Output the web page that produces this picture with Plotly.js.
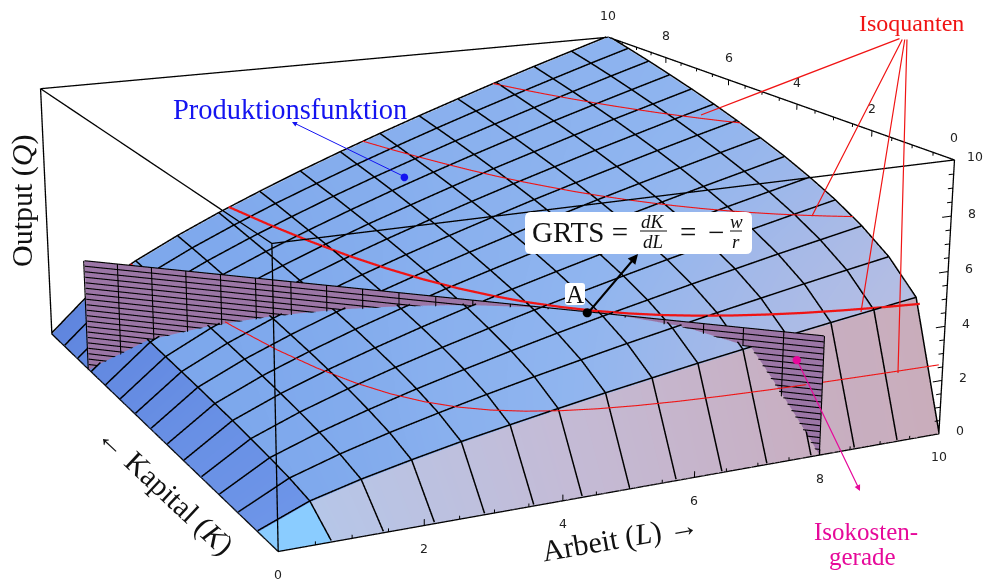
<!DOCTYPE html><html><head><meta charset="utf-8"><script src="https://cdn.plot.ly/plotly-3.0.1.min.js"></script></head><body style="margin:0;overflow:hidden;background:#fff"><div id="clip" style="position:absolute;left:0;top:0;width:989px;height:583px;overflow:hidden"><div id="p" style="position:absolute;left:-1267px;top:-770px"></div></div><script>
// ---- data ----
const gridValues=[0,0.714,1.429,2.143,2.857,3.571,4.286,5,5.714,6.429,7.143,7.857,8.571,9.286,10];
const outputGrid=[ // rows: Kapital, columns: Arbeit
[0,0,0,0,0,0,0,0,0,0,0,0,0,0,0],
[0,0.71,1.16,1.54,1.89,2.20,2.50,2.79,3.06,3.33,3.58,3.83,4.07,4.30,4.53],
[0,0.88,1.43,1.90,2.32,2.71,3.08,3.43,3.77,4.09,4.41,4.71,5.01,5.30,5.58],
[0,0.99,1.61,2.14,2.62,3.06,3.48,3.88,4.26,4.62,4.98,5.32,5.66,5.98,6.30],
[0,1.08,1.76,2.34,2.86,3.34,3.79,4.23,4.64,5.04,5.43,5.80,6.16,6.52,6.87],
[0,1.16,1.88,2.50,3.05,3.57,4.06,4.52,4.96,5.39,5.80,6.20,6.59,6.97,7.34],
[0,1.22,1.99,2.64,3.23,3.77,4.29,4.77,5.24,5.69,6.13,6.55,6.96,7.36,7.76],
[0,1.28,2.08,2.76,3.38,3.95,4.49,5.00,5.49,5.96,6.42,6.86,7.29,7.71,8.12],
[0,1.33,2.17,2.88,3.52,4.11,4.67,5.20,5.71,6.21,6.68,7.14,7.59,8.03,8.45],
[0,1.38,2.24,2.98,3.64,4.26,4.84,5.39,5.92,6.43,6.92,7.40,7.86,8.32,8.76],
[0,1.43,2.32,3.08,3.76,4.40,5.00,5.56,6.11,6.64,7.14,7.64,8.12,8.58,9.04],
[0,1.47,2.38,3.16,3.87,4.52,5.14,5.73,6.29,6.83,7.35,7.86,8.35,8.83,9.30],
[0,1.51,2.45,3.25,3.97,4.64,5.28,5.88,6.45,7.01,7.54,8.06,8.57,9.07,9.55],
[0,1.54,2.50,3.33,4.07,4.76,5.40,6.02,6.61,7.18,7.73,8.26,8.78,9.29,9.78],
[0,1.58,2.56,3.40,4.16,4.86,5.53,6.16,6.76,7.34,7.90,8.45,8.98,9.49,10.00]];
const isoLevels=[2.45,4.34,6.5,8.4];
const isoL=[
[1.34,1.49,1.66,1.84,2.05,2.28,2.53,2.81,3.12,3.47,3.86,4.29,4.77,5.30,5.89,6.55,7.28,8.09,9.00,10.00],
[3.03,3.23,3.44,3.66,3.90,4.15,4.42,4.71,5.01,5.34,5.68,6.05,6.44,6.86,7.31,7.78,8.28,8.82,9.39,10.00],
[5.40,5.58,5.77,5.96,6.15,6.35,6.56,6.78,7.00,7.23,7.47,7.72,7.97,8.23,8.50,8.78,9.07,9.37,9.68,10.00],
[7.795,8.0,8.2,8.4,8.6,8.8,9.0,9.2,9.4,9.6,9.8,10.00]];
const isoK=[
[10.00,7.813,6.105,4.770,3.727,2.912,2.275,1.778,1.389,1.085,0.848,0.663,0.518,0.404,0.316,0.247,0.193,0.151,0.118,0.092],
[10.00,8.638,7.461,6.445,5.567,4.808,4.153,3.588,3.099,2.677,2.312,1.997,1.725,1.490,1.287,1.112,0.960,0.830,0.717,0.619],
[10.00,9.272,8.597,7.971,7.391,6.853,6.354,5.892,5.463,5.065,4.697,4.355,4.038,3.744,3.471,3.219,2.984,2.767,2.566,2.379],
[10.00,9.41,8.88,8.40,7.95,7.53,7.15,6.79,6.46,6.15,5.86,5.59]];
const planeL=[0,0.4,0.8,1.2,1.6,2,2.4,2.8,3.2,3.6,4,4.4,4.8,5.2,5.6,6,6.4,6.8,7.2,7.6,8];
const planeK=[8,7.6,7.2,6.8,6.4,6,5.6,5.2,4.8,4.4,4,3.6,3.2,2.8,2.4,2,1.6,1.2,0.8,0.4,0];
const planeQ=[0,0.217,0.434,0.651,0.868,1.085,1.302,1.519,1.736,1.953,2.17,2.387,2.604,2.821,3.038,3.255,3.472,3.689,3.906,4.123,4.34];
const tickLabels=[0,2,4,6,8,10];
const tickMarks=[0,0.5,1,1.5,2,2.5,3,3.5,4,4.5,5,5.5,6,6.5,7,7.5,8,8.5,9,9.5,10];
const pointA=[5.6,2.4,4.34], pointSurface=[5.36,8.18,6.08], pointPlane=[7.74,0.26,3.38];
// shade of the facets along each axis
const shadeL=[0,.05,.1,.15,.22,.3,.38,.46,.55,.64,.72,.8,.88,.94,1];
const shadeK=[1,1,.9,.8,.7,.62,.55,.5,.45,.41,.38,.36,.34,.33,.32];
const rowShade=[0,0,.07,.14,.21,.29,.36,.43,.5,.57,.64,.71,.79,.86,1];
// ---- drawing ----
const bigW=3473,bigH=2047,left=-1267,top0=-770;
const px=x=>(x-left)/bigW,py=y=>1-(y-top0)/bigH;
const g=gridValues,z=outputGrid,idx=[1,2,3,4,5,6,7,8,9,10,11,12,13,14];
const noLight={ambient:1,diffuse:0,specular:0,roughness:1,fresnel:0};
const base={type:'surface',showscale:false,hoverinfo:'skip',lighting:noLight,cmin:0,cmax:1};
const data=[];
data.push({...base,x:idx.map(i=>g[i]),y:idx.map(i=>g[i]),z:idx.map(k=>idx.map(l=>z[k][l])),surfacecolor:idx.map(k=>idx.map(l=>shadeL[l]*shadeK[k])),colorscale:[[0,'#7ba6ec'],[.2,'#89b0ee'],[.4,'#90b5ef'],[.7,'#a5b9e8'],[1,'#b6bee3']]});
data.push({...base,x:idx.map(i=>g[i]),y:[0,g[1]],z:[idx.map(l=>z[0][l]),idx.map(l=>z[1][l])],surfacecolor:[idx.map(l=>rowShade[l]),idx.map(l=>rowShade[l])],colorscale:[[0,'#b6c6e8'],[.35,'#c4bbd6'],[.7,'#c8afc2'],[1,'#c9adbb']]});
data.push({...base,x:[0,g[1]],y:idx.map(i=>g[i]),z:idx.map(k=>[z[k][0],z[k][1]]),surfacecolor:idx.map(k=>[rowShade[k],rowShade[k]]),colorscale:[[0,'#6d95e8'],[1,'#5f85de']]});
data.push({...base,x:[0,g[1]],y:[0,g[1]],z:[[0,0],[0,z[1][1]]],surfacecolor:[[0,0],[0,0]],colorscale:[[0,'#8accff'],[1,'#8accff']]});
data.push({...base,x:planeQ.map(()=>planeL),y:planeQ.map(()=>planeK),z:planeQ.map(v=>planeL.map(()=>v)),surfacecolor:planeQ.map(()=>planeL.map(()=>0)),colorscale:[[0,'#9b76a6'],[1,'#9b76a6']]});
function lines(segs,color,width){const X=[],Y=[],Z=[];for(const s of segs){for(const p of s){X.push(p[0]);Y.push(p[1]);Z.push(p[2])}X.push(null);Y.push(null);Z.push(null)}
 return {type:'scatter3d',mode:'lines',x:X,y:Y,z:Z,line:{color,width},hoverinfo:'skip',showlegend:false}}
const lift=.05,segs=[];
for(let k=1;k<=14;k++)segs.push(g.map((l,i)=>[l,g[k],z[k][i]+lift]));
for(let i=1;i<=14;i++)segs.push(g.map((k,j)=>[g[i],k,z[j][i]+lift]));
data.push(lines(segs,'#000',3));
const ps=[],d=.015;
for(const v of planeQ)ps.push([[planeL[0],planeK[0]-d,v],[planeL[20]-d,planeK[20],v]]);
for(let i=0;i<planeL.length;i++)ps.push([[planeL[i]-d,planeK[i]-d,0],[planeL[i]-d,planeK[i]-d,planeQ[20]]]);
data.push(lines(ps,'#000',2.2));
const iso=isoLevels.map((Q,n)=>isoL[n].map((L,i)=>[L,isoK[n][i],Q+.06]));
data.push(lines([iso[0],iso[2],iso[3]],'#f01414',2.2));
data.push(lines([iso[1]],'#f01414',4.5));
const c=(a,b,e)=>[a,b,e];
data.push(lines([[c(0,10,10),c(10,10,10),c(10,0,10),c(0,0,10),c(0,10,10)],[c(0,10,10),c(0,10,0),c(0,0,0),c(10,0,0),c(10,0,10)],[c(0,0,0),c(0,0,10)]],'#000',2.6));
const tk=[];for(const v of tickMarks){const m=v%2==0?.22:.12;tk.push([c(v,0,0),c(v,0,m)]);tk.push([c(10,v,10),c(10,v,10-m)]);tk.push([c(10,0,v),c(10-m*.7,0,v)]);}
data.push(lines(tk,'#000',2));
const sa=[];const tf={family:'DejaVu Sans',size:12.5,color:'#222'};
for(const v of tickLabels){sa.push({x:v,y:0,z:0,text:String(v),showarrow:false,yshift:-23,font:tf});
 sa.push({x:10,y:v,z:10,text:String(v),showarrow:false,yshift:22,font:tf});
 sa.push({x:10,y:0,z:v,text:String(v),showarrow:false,xshift:21,yshift:3,font:tf});}
const dot=(p,size,color)=>sa.push({x:p[0],y:p[1],z:p[2],text:'●',showarrow:false,font:{family:'DejaVu Sans',size,color}});
const ser='Liberation Serif',ann=[];
function T(x,y,text,size,color,angle){ann.push({xref:'paper',yref:'paper',x:px(x),y:py(y),text,showarrow:false,font:{family:ser,size,color},textangle:angle||0,xanchor:'center',yanchor:'middle'})}
function AR(x0,y0,x1,y1,color,w,head){ann.push({xref:'paper',yref:'paper',x:px(x1),y:py(y1),ax:x0-x1,ay:y0-y1,text:'',showarrow:true,arrowcolor:color,arrowwidth:w,arrowhead:head,arrowsize:1,standoff:0,startstandoff:0})}
T(22,201,'Output (<i>Q</i>)',30,'#111',-90);
T(165,490,'← Kapital (<i>K</i>)',30,'#111',43);
T(620,538,'Arbeit (<i>L</i>) →',30,'#111',-10);
T(290,109,'Produktionsfunktion',28.5,'#1414f0');
T(911,23,'Isoquanten',24,'#f01414');
T(866,531,'Isokosten-',25,'#e6099a');T(862,556,'gerade',25,'#e6099a');
for(const e of [[701,115,901,38],[812,216,903,38],[861,312,905,38],[898,373,907,38]])AR(e[2],e[3],e[0],e[1],'#f01414',1.2,0);
AR(405,177,292,122,'#1414f0',1,2);AR(797,360,860,491,'#e6099a',1.2,2);AR(588,313,638,254,'#000',2,2);
T(575,294,'A',25,'#111');
T(580,232,'GRTS =',29,'#111');T(653,221,'<i>dK</i>',19,'#111');T(653,241,'<i>dL</i>',19,'#111');T(688,232,'=',29,'#111');T(716,232,'−',29,'#111');T(736,221,'<i>w</i>',19,'#111');T(736,241,'<i>r</i>',19,'#111');
function round(x0,y0,x1,y1,r){return {type:'path',xref:'paper',yref:'paper',path:`M${px(x0+r)},${py(y0)} L${px(x1-r)},${py(y0)} Q${px(x1)},${py(y0)} ${px(x1)},${py(y0+r)} L${px(x1)},${py(y1-r)} Q${px(x1)},${py(y1)} ${px(x1-r)},${py(y1)} L${px(x0+r)},${py(y1)} Q${px(x0)},${py(y1)} ${px(x0)},${py(y1-r)} L${px(x0)},${py(y0+r)} Q${px(x0)},${py(y0)} ${px(x0+r)},${py(y0)} Z`,fillcolor:'#fff',line:{width:0},layer:'above'}}
const bar=(x0,x1,y)=>({type:'line',xref:'paper',yref:'paper',x0:px(x0),x1:px(x1),y0:py(y),y1:py(y),line:{color:'#111',width:1},layer:'above'});
const shapes=[round(525,212,752,254,6),round(565,283,585,305,3),bar(640,667,231),bar(730,742,231)];
dot(pointA,12,'#000');dot(pointSurface,10,'#1414f0');dot(pointPlane,11,'#e6099a');
const ax={visible:false,range:[-.02,10.02]};
Plotly.newPlot('p',data,{margin:{l:0,r:0,t:0,b:0},width:bigW,height:bigH,showlegend:false,paper_bgcolor:'#fff',annotations:ann,shapes,scene:{domain:{x:[0,1],y:[0,1]},aspectmode:'manual',aspectratio:{x:2.5119*1.004,y:2.4741*1.004,z:1.004},camera:{eye:{x:-3.8283,y:-7.9668,z:2.5034},center:{x:0,y:0,z:0},up:{x:3.3327,y:6.9506,z:1}},xaxis:ax,yaxis:ax,zaxis:ax,annotations:sa}},{displayModeBar:false});
</script></body></html>
